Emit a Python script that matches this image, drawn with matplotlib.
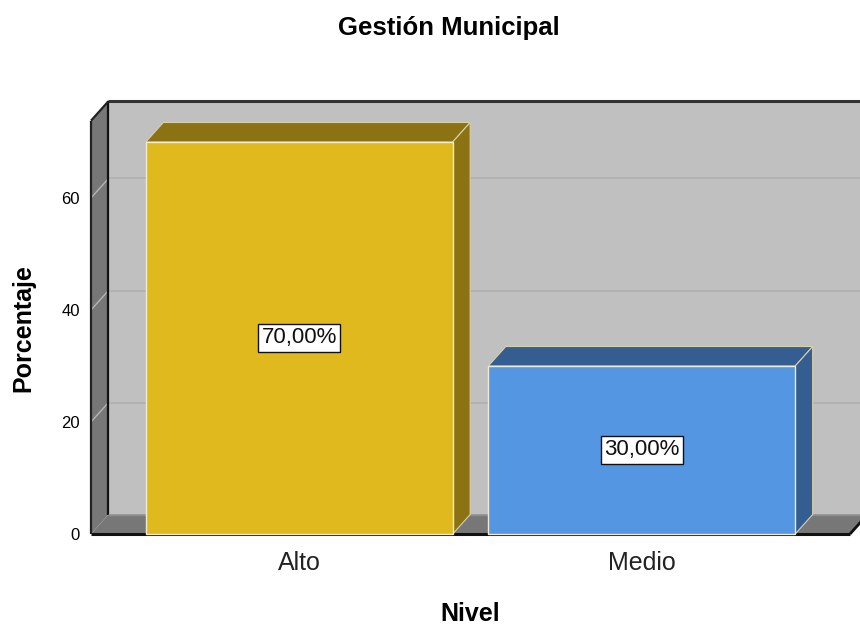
import matplotlib
matplotlib.use("Agg")
import matplotlib.pyplot as plt
from matplotlib.patches import Polygon, Rectangle

plt.rcParams["font.family"] = ["Liberation Sans", "DejaVu Sans"]

# data
categories = ["Alto", "Medio"]
values = [70.0, 30.0]
labels = ["70,00%", "30,00%"]
yticks = [0, 20, 40, 60]

front_colors = ["#e0b91f", "#5596e3"]
shade_colors = ["#8b7314", "#345e92"]

# 3D look: depth offsets in data units
DX, DY = 0.051, 3.48
BAR_W = 0.896
XL, XR = -0.608, 1.608
YMAX = 73.8

fig = plt.figure(figsize=(8.6, 6.28), dpi=100)
ax = fig.add_axes([91 / 860, 94 / 628, 759 / 860, 413.3 / 628])
ax.set_xlim(XL, XR)
ax.set_ylim(0, YMAX)
for s in ax.spines.values():
    s.set_visible(False)
ax.patch.set_visible(False)


def poly(pts, **kw):
    p = Polygon(pts, closed=True, clip_on=False, **kw)
    ax.add_patch(p)
    return p


def line(xs, ys, **kw):
    ax.plot(xs, ys, clip_on=False, solid_capstyle="butt", **kw)


# back wall
poly([(XL + DX, DY), (XR + DX, DY), (XR + DX, YMAX + DY), (XL + DX, YMAX + DY)],
     facecolor="#c0c0c0", edgecolor="none", zorder=1)
for v in yticks[1:]:
    line([XL + DX, XR + DX], [v + DY, v + DY], color="#b0b0b0", lw=1.2, zorder=2)
line([XL + DX, XR + DX], [YMAX + DY, YMAX + DY], color="#333333", lw=2.2, zorder=3)

# left wall
poly([(XL, 0), (XL + DX, DY), (XL + DX, YMAX + DY), (XL, YMAX)],
     facecolor="#777777", edgecolor="none", zorder=3)
for v in yticks[1:]:
    line([XL, XL + DX], [v, v + DY], color="#b4b4b4", lw=1.0, zorder=4)
line([XL + DX, XL + DX], [DY, YMAX + DY], color="#111111", lw=1.6, zorder=4)
line([XL, XL], [0, YMAX], color="#222222", lw=1.6, zorder=5)
line([XL, XL + DX], [YMAX, YMAX + DY], color="#222222", lw=1.6, zorder=5)

# floor
poly([(XL, 0), (XR, 0), (XR + DX, DY), (XL + DX, DY)],
     facecolor="#777777", edgecolor="none", zorder=4)
line([XL + DX, XR + DX], [DY, DY], color="#8f8f8f", lw=1.0, zorder=4)
line([XL, XR], [0, 0], color="#111111", lw=2.2, zorder=5)
line([XR, XR + DX], [0, DY], color="#111111", lw=2.0, zorder=5)

# bars
for i, (v, fc, sc, lab) in enumerate(zip(values, front_colors, shade_colors, labels)):
    x0, x1 = i - BAR_W / 2, i + BAR_W / 2
    poly([(x0, v), (x1, v), (x1 + DX, v + DY), (x0 + DX, v + DY)],
         facecolor=sc, edgecolor="#d8d0a8", lw=0.8, zorder=6)
    poly([(x1, 0), (x1 + DX, DY), (x1 + DX, v + DY), (x1, v)],
         facecolor=sc, edgecolor="#d8d0a8", lw=0.8, zorder=6)
    ax.add_patch(Rectangle((x0, 0), BAR_W, v, facecolor=fc, edgecolor="#f0ead0",
                           lw=1.0, zorder=7, clip_on=False))
    ax.text(i, v / 2, lab, ha="center", va="center", fontsize=16, color="#111111",
            zorder=8, bbox=dict(boxstyle="square,pad=0.15", facecolor="white",
                                edgecolor="#111111", lw=1.0))

ax.set_yticks(yticks)
ax.set_yticklabels([str(t) for t in yticks], fontsize=12)
ax.set_xticks(range(len(categories)))
ax.set_xticklabels(categories, fontsize=18, color="#222222")
ax.tick_params(axis="y", length=0, pad=8)
ax.tick_params(axis="x", length=0, pad=12)

fig.text(23 / 860, 1 - 328 / 628, "Porcentaje", fontsize=18, fontweight="bold",
         rotation=90, ha="center", va="center")
fig.text(470 / 860, 1 - 614 / 628, "Nivel", fontsize=18, fontweight="bold",
         ha="center", va="center")
fig.text(449 / 860, 1 - 28 / 628, "Gestión Municipal", fontsize=18.5,
         fontweight="bold", ha="center", va="center")

fig.savefig("out.png", dpi=100)
